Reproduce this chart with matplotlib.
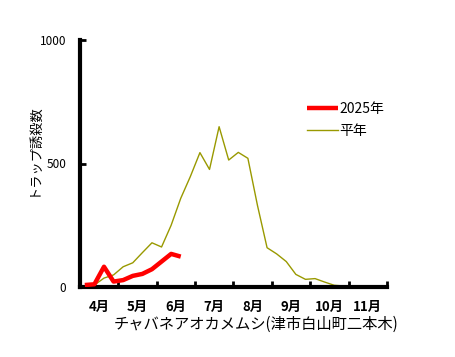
import matplotlib
matplotlib.use("Agg")
import matplotlib.pyplot as plt
from matplotlib.ticker import FixedLocator, NullFormatter
import numpy as np

plt.rcParams["font.family"] = ["Noto Sans CJK JP", "DejaVu Sans"]

# quarter-month periods from 4月 (index 0) to 11月 end (index 31)
months = ["4月", "5月", "6月", "7月", "8月", "9月", "10月", "11月"]

y2025 = [8, 11, 82, 22, 28, 45, 53, 72, 103, 134, 123]

normal = [3, 8, 36, 49, 82, 98, 139, 179, 162, 250,
          359, 447, 544, 476, 649, 514, 545, 521, 330, 159,
          134, 103, 51, 31, 34, 20, 7, 4, 4, 3,
          2, 2]

x2025 = np.arange(len(y2025)) + 0.5
xnorm = np.arange(len(normal)) + 0.5

fig = plt.figure(figsize=(4.56, 3.57), dpi=100)
ax = fig.add_axes([80 / 456, 1 - 287 / 357, 307 / 456, 247 / 357])

ax.plot(xnorm, normal, color="#999900", linewidth=1.0, label="平年", zorder=2)
ax.plot(x2025, y2025, color="#ff0000", linewidth=3.2, label="2025年",
        solid_capstyle="butt", zorder=3)

ax.set_xlim(0, 32)
ax.set_ylim(0, 1000)

ax.xaxis.set_major_locator(FixedLocator(np.arange(0, 33, 4)))
ax.xaxis.set_major_formatter(NullFormatter())
ax.xaxis.set_minor_locator(FixedLocator(np.arange(2, 32, 4)))
ax.set_xticklabels(months, minor=True, fontsize=9.5, fontweight="bold")
ax.tick_params(axis="x", which="minor", length=0, pad=9)
ax.tick_params(axis="x", which="major", direction="in", length=4, width=2)

ax.set_yticks([0, 500, 1000])
ax.set_yticklabels(["0", "500", "1000"], fontsize=8.5)
ax.tick_params(axis="y", direction="in", length=4, width=2, pad=10)

for s in ["top", "right"]:
    ax.spines[s].set_visible(False)
for s in ["left", "bottom"]:
    ax.spines[s].set_linewidth(3)

ax.set_xlabel("チャバネアオカメムシ(津市白山町二本木)", fontsize=11)
ax.xaxis.set_label_coords(0.573, -0.115)
ax.set_ylabel("トラップ誘殺数", fontsize=9.5)
ax.yaxis.set_label_coords(-0.13, 0.555)

handles, labels = ax.get_legend_handles_labels()
ax.legend(handles[::-1], labels[::-1], loc="upper left",
          bbox_to_anchor=(0.70, 0.80), frameon=False, fontsize=10,
          handlelength=2.2, handletextpad=0.1, labelspacing=0.6)

fig.savefig("out.png", dpi=100)
plt.close(fig)
